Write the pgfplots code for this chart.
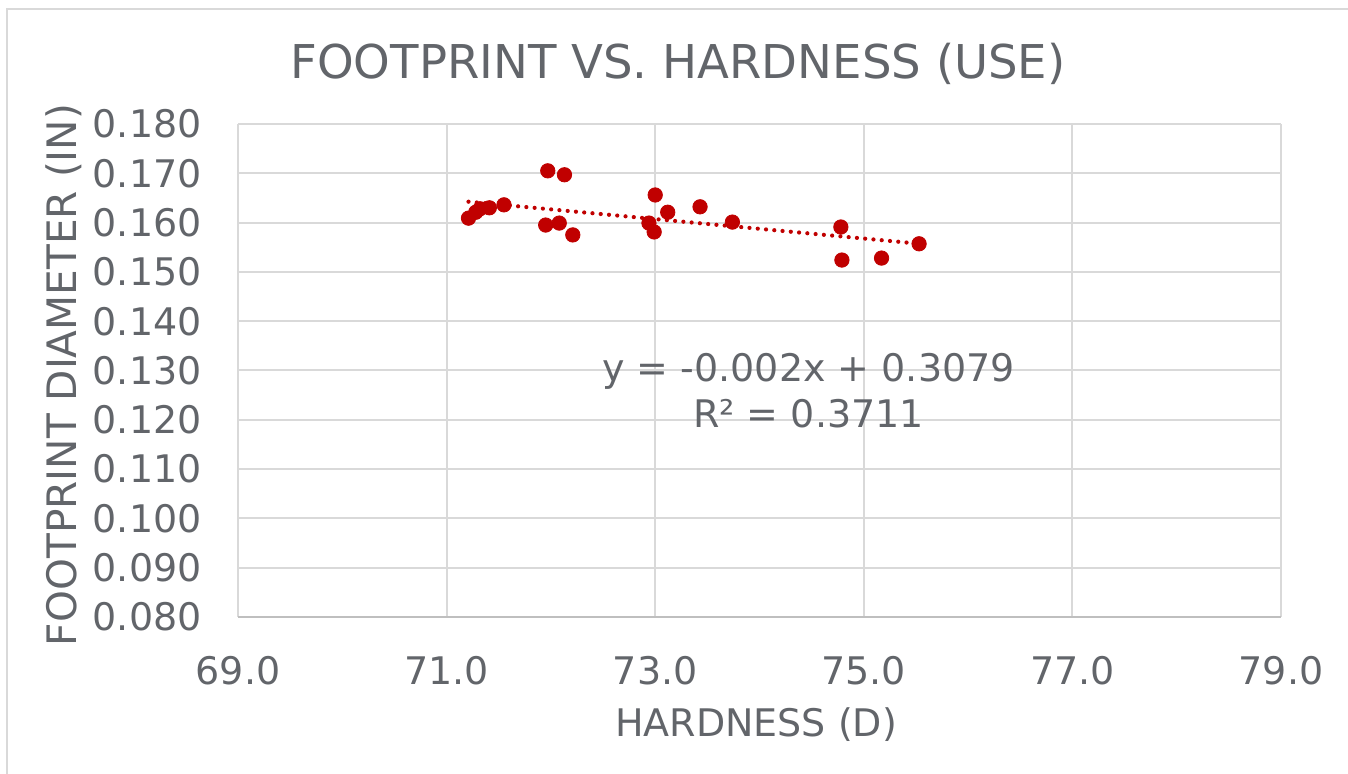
\documentclass[border=0pt]{standalone}
\usepackage{fontspec}
\setmainfont{DejaVu Sans}
\usepackage{pgfplots}
\pgfplotsset{compat=1.18}
\definecolor{txt}{HTML}{62656A}
\definecolor{gridc}{HTML}{D9D9D9}
\definecolor{axl}{HTML}{BFBFBF}
\definecolor{ptc}{HTML}{C00000}
\begin{document}
\begin{tikzpicture}
\useasboundingbox (0,0) rectangle (674pt,387pt);
\draw[draw=gridc, line width=1pt] (3.5pt,0) -- (3.5pt,382.5pt) -- (674pt,382.5pt);
\begin{axis}[
  at={(119pt,78.5pt)}, anchor=south west,
  scale only axis, width=521.5pt, height=246.5pt,
  xmin=69, xmax=79, ymin=0.08, ymax=0.18,
  xtick={69,71,73,75,77,79},
  ytick={0.08,0.09,0.10,0.11,0.12,0.13,0.14,0.15,0.16,0.17,0.18},
  xmajorgrids, ymajorgrids,
  major grid style={draw=gridc, line width=1pt},
  axis line style={draw=none},
  major tick length=0pt,
  /pgf/number format/assume math mode=true,
  xticklabel style={font=\fontsize{19}{21}\selectfont, text=txt, inner sep=0pt, anchor=north, yshift=-19.5pt, /pgf/number format/.cd, fixed, fixed zerofill, precision=1},
  yticklabel style={font=\fontsize{19}{21}\selectfont, text=txt, inner sep=0pt, anchor=east, xshift=-18pt, /pgf/number format/.cd, fixed, fixed zerofill, precision=3},
  scaled y ticks=false,
  clip=false,
]
\draw[draw=axl, line width=1pt] (axis cs:69,0.08) -- (axis cs:79,0.08);
\addplot[only marks, mark=*, mark size=3.6pt, mark options={draw=ptc, fill=ptc}] coordinates {
(71.21,0.1609) (71.28,0.1621) (71.32,0.1628) (71.41,0.1630) (71.55,0.1636)
(71.97,0.1705) (72.13,0.1697) (71.95,0.1595) (72.08,0.1599) (72.21,0.1575)
(72.94,0.1599) (73.00,0.1656) (72.99,0.1581) (73.12,0.1621) (73.43,0.1632)
(73.74,0.1601) (74.78,0.1591) (74.79,0.1524) (75.17,0.1528) (75.53,0.1557)
};
\addplot[draw=ptc, line width=2.1pt, line cap=round, dash pattern=on 0pt off 4.15pt] coordinates {(71.21,0.16424) (75.53,0.15572)};
\node[font=\fontsize{19}{23}\selectfont, text=txt, align=center] at (axis cs:74.47,0.1260) {y = -0.002x + 0.3079\\R² = 0.3711};
\end{axis}
\node[anchor=base, font=\fontsize{23.3}{26}\selectfont, text=txt] at (339pt,347.5pt) {FOOTPRINT VS. HARDNESS (USE)};
\node[anchor=base, font=\fontsize{19}{21}\selectfont, text=txt] at (378pt,18.5pt) {HARDNESS (D)};
\node[anchor=base, rotate=90, font=\fontsize{20.3}{22}\selectfont, text=txt] at (38.5pt,199.5pt) {FOOTPRINT DIAMETER (IN)};
\end{tikzpicture}
\end{document}
